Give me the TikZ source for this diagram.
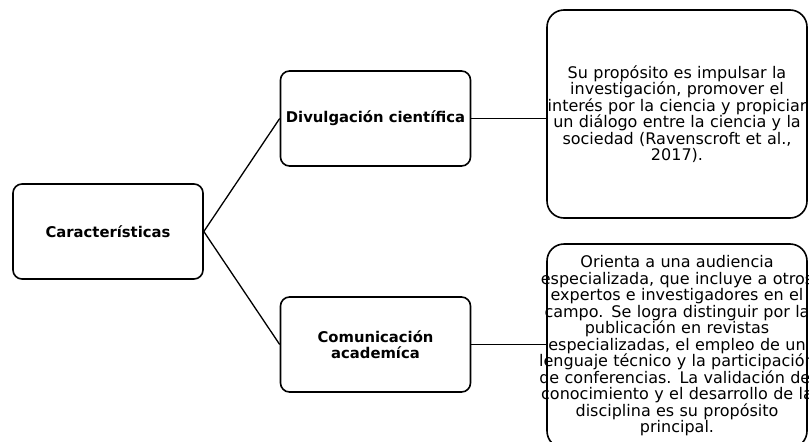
\documentclass[tikz,border=0pt]{standalone}
\usepackage{fontspec}
\setmainfont{DejaVu Sans}
\usepackage{xcolor}
\newcommand{\chTitle}{\fontsize{14.8}{15.7}\selectfont\bfseries}
\newcommand{\chBody}{\fontsize{16}{16.5}\selectfont}

\begin{document}
\begin{tikzpicture}[x=1pt, y=-1pt,
    titlebox/.style={draw, line width=1.6pt, rounded corners=9pt, align=center,
        minimum width=190pt, minimum height=95pt, font=\chTitle},
    textbox/.style={draw, line width=1.6pt, rounded corners=17pt, align=center,
        text width=290pt, inner xsep=-15pt, minimum height=#1, font=\chBody},
    link/.style={line width=1.3pt}]
    \useasboundingbox (0,0) rectangle (809,442);
    \clip (0,0) rectangle (809,442);

    \node[titlebox] (carac) at (108, 231.5) {Características};
    \node[titlebox] (divul) at (375.5, 118.5) {Divulgación científica};
    \node[titlebox] (acad) at (375.5, 344.5) {Comunicación\\academíca};

    \node[textbox=208pt] (prop) at (677, 114) {Su propósito es impulsar la\\
        investigación, promover el\\
        interés por la ciencia y propiciar\\
        un diálogo entre la ciencia y la\\
        sociedad (Ravenscroft et al.,\\
        2017).};
    \node[textbox=204pt] (aud) at (677, 346) {Orienta a una audiencia\\
        especializada, que incluye a otros\\
        expertos e investigadores en el\\
        campo. Se logra distinguir por la\\
        publicación en revistas\\
        especializadas, el empleo de un\\
        lenguaje técnico y la participación\\
        de conferencias. La validación del\\
        conocimiento y el desarrollo de la\\
        disciplina es su propósito\\
        principal.};

    \draw[link] (carac.east) -- (divul.west);
    \draw[link] (carac.east) -- (acad.west);
    \draw[link] (divul.east) -- (divul.east -| prop.west);
    \draw[link] (acad.east) -- (acad.east -| aud.west);
\end{tikzpicture}
\end{document}
